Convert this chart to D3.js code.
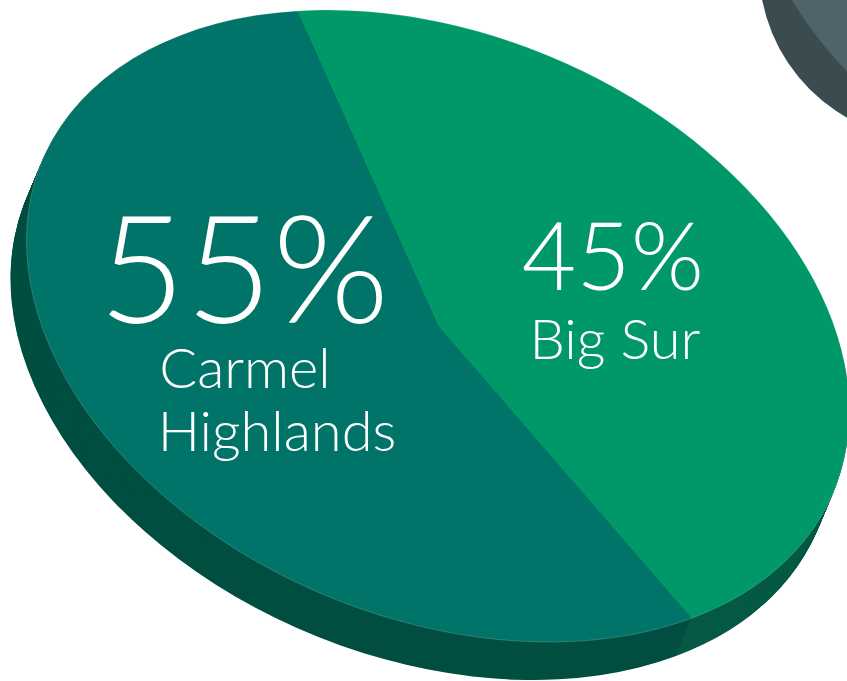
<!DOCTYPE html>
<html>
<head>
<meta charset="utf-8">
<script src="https://cdn.jsdelivr.net/npm/d3@7"></script>
<style>
  html, body { margin: 0; padding: 0; background: #ffffff; }
  svg { display: block; }
  text { font-family: "Lato", "Open Sans", sans-serif; font-weight: 300; fill: #ffffff; }
</style>
</head>
<body>
<svg id="chart" width="847" height="681"></svg>
<script>
// Share of respondents by area
const categories = ["Big Sur", "Carmel Highlands"];
const shares = [45, 55];
const shareLabels = ["45%", "55%"];
const nameLines = [["Big Sur"], ["Carmel", "Highlands"]];

const topColors = ["#009868", "#007468"];
const sideColors = ["#065a46", "#024f42"];

const svg = d3.select("#chart");

// Tilted disc: unit pie mapped by an affine matrix (circle -> rotated ellipse)
const R = 100;
const disc = { cx: 438, cy: 326, a: 411.5, c: 85.3, d: 304.3 };
const discMatrix = (dx, dy) =>
  `matrix(${disc.a / R},${disc.c / R},0,${disc.d / R},${disc.cx + dx},${disc.cy + dy})`;
const depth = { dx: -16, dy: 38, steps: 48 };

const pie = d3.pie()
  .sort(null)
  .value(d => d)
  .startAngle(-20 * Math.PI / 180)
  .endAngle((360 - 20) * Math.PI / 180);
const arcs = pie(shares);
const arc = d3.arc().innerRadius(0).outerRadius(R);

// Neighbouring grey disc peeking in at the top-right corner
const decor = svg.append("g").attr("class", "neighbour");
decor.append("circle")
  .attr("cx", 932).attr("cy", -33).attr("r", 173)
  .attr("fill", "#3a4c50");
decor.append("ellipse")
  .attr("rx", R).attr("ry", R)
  .attr("transform", `matrix(${disc.a / R},${disc.c / R},0,${disc.d / R},1158,-63)`)
  .attr("fill", "#4e6468");

// Extruded side of the pie: stacked copies shifted along the depth vector
const sideLayer = svg.append("g").attr("class", "side");
for (let i = depth.steps; i >= 1; i--) {
  const t = i / depth.steps;
  sideLayer.append("g")
    .attr("transform", discMatrix(depth.dx * t, depth.dy * t))
    .selectAll("path")
    .data(arcs)
    .join("path")
    .attr("d", arc)
    .attr("fill", (d, k) => sideColors[k]);
}

// Top face
const faceLayer = svg.append("g").attr("class", "face")
  .attr("transform", discMatrix(0, 0));
faceLayer.selectAll("path")
  .data(arcs)
  .join("path")
  .attr("d", arc)
  .attr("fill", (d, k) => topColors[k]);

// Faint rim highlight along the top face's edge
faceLayer.append("circle")
  .attr("r", R)
  .attr("fill", "none")
  .attr("stroke", "#ffffff")
  .attr("stroke-opacity", 0.18)
  .attr("stroke-width", 1)
  .attr("vector-effect", "non-scaling-stroke");

// Labels
const labelPos = [
  { pctX: 613, pctY: 290, pctSize: 94, nameX: [615], nameY: 359, nameSize: 56, lineGap: 0 },
  { pctX: 244, pctY: 323, pctSize: 150, nameX: [245, 277], nameY: 388, nameSize: 56, lineGap: 63 }
];
const labelLayer = svg.append("g").attr("class", "labels");
categories.forEach((cat, i) => {
  const p = labelPos[i];
  labelLayer.append("text")
    .attr("x", p.pctX).attr("y", p.pctY)
    .attr("text-anchor", "middle")
    .style("font-size", p.pctSize + "px")
    .text(shareLabels[i]);
  nameLines[i].forEach((line, j) => {
    labelLayer.append("text")
      .attr("x", p.nameX[j])
      .attr("y", p.nameY + j * p.lineGap)
      .attr("text-anchor", "middle")
      .style("font-size", p.nameSize + "px")
      .text(line);
  });
});
</script>
</body>
</html>
